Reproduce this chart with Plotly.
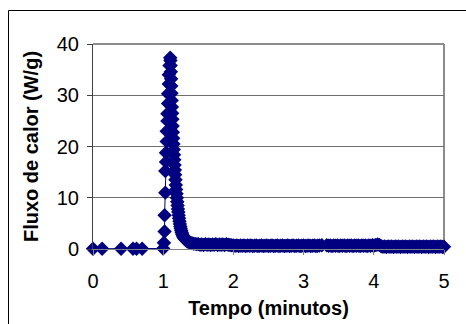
import plotly.graph_objects as go

# Heat-flow curve: time in minutes, heat flux in W/g
baseline_t = [0.00, 0.13, 0.40, 0.57, 0.62, 0.70, 1.00]
baseline_q = [0.05, 0.05, 0.05, 0.05, 0.05, 0.05, 0.1]

rise_t = [1.01, 1.02, 1.02, 1.03, 1.03, 1.04, 1.04, 1.05, 1.05, 1.06,
          1.06, 1.07, 1.07, 1.08, 1.08, 1.09]
rise_q = [1.2, 3.4, 6.6, 11.0, 15.2, 17.0, 18.8, 21.0, 23.0, 25.0,
          26.4, 28.4, 30.3, 32.2, 34.0, 35.8]

peak_t = [1.100, 1.103, 1.106, 1.109, 1.112, 1.115, 1.118, 1.121, 1.124, 1.127,
          1.130, 1.134, 1.138, 1.142, 1.146, 1.150, 1.154, 1.158, 1.162, 1.166,
          1.170, 1.175, 1.180, 1.185, 1.190, 1.195, 1.200, 1.205, 1.210, 1.215,
          1.220, 1.226, 1.232, 1.238, 1.244, 1.250, 1.257, 1.264, 1.272, 1.280,
          1.290, 1.300, 1.312, 1.325, 1.340, 1.355, 1.370, 1.390, 1.410, 1.430,
          1.455, 1.480]
peak_q = [37.3, 36.8, 35.8, 34.6, 33.2, 31.8, 30.4, 29.0, 27.7, 26.5,
          25.3, 24.0, 22.8, 21.6, 20.5, 19.4, 18.4, 17.4, 16.4, 15.4,
          14.5, 13.5, 12.5, 11.6, 10.8, 10.0, 9.2, 8.5, 7.8, 7.2,
          6.6, 6.0, 5.4, 4.9, 4.4, 4.0, 3.6, 3.2, 2.9, 2.6,
          2.3, 2.1, 1.9, 1.7, 1.5, 1.4, 1.3, 1.2, 1.1, 1.05,
          1.0, 0.95]

tail_t = [1.500, 1.525, 1.550, 1.575, 1.600, 1.625, 1.650, 1.675, 1.700, 1.725,
          1.750, 1.775, 1.800, 1.825, 1.850, 1.875, 1.900, 1.925, 1.950, 1.975,
          2.000, 2.025, 2.050, 2.075, 2.100, 2.125, 2.150, 2.175, 2.200, 2.225,
          2.250, 2.275, 2.300, 2.325, 2.350, 2.375, 2.400, 2.425, 2.450, 2.475,
          2.500, 2.525, 2.550, 2.575, 2.600, 2.625, 2.650, 2.675, 2.700, 2.725,
          2.750, 2.775, 2.800, 2.825, 2.850, 2.875, 2.900, 2.925, 2.950, 2.975,
          3.000, 3.025, 3.050, 3.075, 3.100, 3.125, 3.150, 3.175, 3.200, 3.225,
          3.260, 3.330, 3.355, 3.380, 3.405, 3.430, 3.455, 3.480, 3.505, 3.530,
          3.555, 3.580, 3.605, 3.630, 3.655, 3.680, 3.705, 3.730, 3.755, 3.780,
          3.805, 3.830, 3.855, 3.880, 3.905, 3.930, 3.955, 3.980, 4.005, 4.030,
          4.055, 4.080, 4.105, 4.130, 4.155, 4.180, 4.205, 4.230, 4.255, 4.280,
          4.305, 4.330, 4.355, 4.380, 4.405, 4.430, 4.455, 4.480, 4.505, 4.530,
          4.555, 4.580, 4.605, 4.630, 4.655, 4.680, 4.705, 4.730, 4.755, 4.780,
          4.805, 4.830, 4.855, 4.880, 4.905, 4.930, 4.955, 4.980, 5.000]
tail_q = [0.95, 0.85, 0.90, 0.80, 0.95, 0.85, 0.90, 0.80, 0.90, 0.85,
          0.95, 0.80, 0.90, 0.85, 0.90, 0.80, 0.95, 0.85, 0.80, 0.75,
          0.70, 0.65, 0.70, 0.60, 0.70, 0.65, 0.70, 0.60, 0.70, 0.65,
          0.70, 0.60, 0.65, 0.70, 0.60, 0.65, 0.70, 0.60, 0.65, 0.70,
          0.60, 0.65, 0.70, 0.60, 0.65, 0.70, 0.60, 0.65, 0.70, 0.60,
          0.65, 0.70, 0.60, 0.65, 0.70, 0.60, 0.65, 0.70, 0.60, 0.65,
          0.70, 0.60, 0.65, 0.70, 0.60, 0.65, 0.70, 0.60, 0.65, 0.70,
          0.75, 0.75, 0.65, 0.70, 0.60, 0.70, 0.65, 0.70, 0.60, 0.70,
          0.65, 0.70, 0.60, 0.70, 0.65, 0.70, 0.60, 0.70, 0.65, 0.70,
          0.60, 0.70, 0.65, 0.70, 0.60, 0.70, 0.65, 0.75, 0.70, 0.80,
          0.90, 0.80, 0.55, 0.45, 0.50, 0.40, 0.50, 0.45, 0.50, 0.40,
          0.50, 0.45, 0.50, 0.40, 0.50, 0.45, 0.50, 0.40, 0.50, 0.45,
          0.50, 0.40, 0.50, 0.45, 0.50, 0.40, 0.50, 0.45, 0.50, 0.40,
          0.50, 0.45, 0.50, 0.40, 0.50, 0.45, 0.50, 0.40, 0.45]

time_min = baseline_t + rise_t + peak_t + tail_t
heat_flux = baseline_q + rise_q + peak_q + tail_q

x_ticks = [0, 1, 2, 3, 4, 5]
y_ticks = [0, 10, 20, 30, 40]

NAVY = "#000080"
FONT = "Liberation Sans, Arial, sans-serif"

fig = go.Figure()
fig.add_trace(go.Scatter(
    x=time_min, y=heat_flux, mode="lines+markers",
    line=dict(color=NAVY, width=1),
    marker=dict(symbol="diamond", size=9.5, color=NAVY,
                line=dict(color=NAVY, width=1.5)),
    showlegend=False, cliponaxis=False,
))

# plot-area frame (top and right edges)
fig.add_shape(type="line", xref="paper", yref="paper", x0=0, x1=1, y0=1, y1=1,
              line=dict(color="#8c8c8c", width=2), layer="below")
fig.add_shape(type="line", xref="paper", yref="paper", x0=1, x1=1, y0=0, y1=1,
              line=dict(color="#8c8c8c", width=2), layer="below")
# outer chart border
fig.add_shape(type="rect", xref="paper", yref="paper",
              x0=(8.5 - 93) / 351, x1=(480 - 93) / 351,
              y0=(249 - 340) / 205, y1=(249 - 10.5) / 205,
              line=dict(color="black", width=1), layer="below")

fig.update_layout(
    width=466, height=324,
    margin=dict(l=93, r=22, t=44, b=75, autoexpand=False),
    paper_bgcolor="white", plot_bgcolor="white",
    font=dict(family=FONT, color="black"),
)
fig.update_xaxes(
    range=[0, 5], tickvals=x_ticks, ticks="outside", ticklen=5,
    tickcolor="#808080", showline=True, linecolor="#808080", linewidth=1,
    showgrid=False, zeroline=False, tickfont=dict(size=20), ticklabelstandoff=9,
    automargin=False,
    title=dict(text="<b>Tempo (minutos)</b>", font=dict(size=20), standoff=9),
)
fig.update_yaxes(
    range=[0, 40], tickvals=y_ticks, ticks="outside", ticklen=5,
    tickcolor="#404040", showline=True, linecolor="#404040", linewidth=1,
    showgrid=True, gridcolor="#6e6e6e", gridwidth=1, zeroline=False,
    tickfont=dict(size=20), ticklabelstandoff=4, automargin=False,
    title=dict(text="<b>Fluxo de calor (W/g)</b>", font=dict(size=20), standoff=12),
)

fig.write_html("out.html")
